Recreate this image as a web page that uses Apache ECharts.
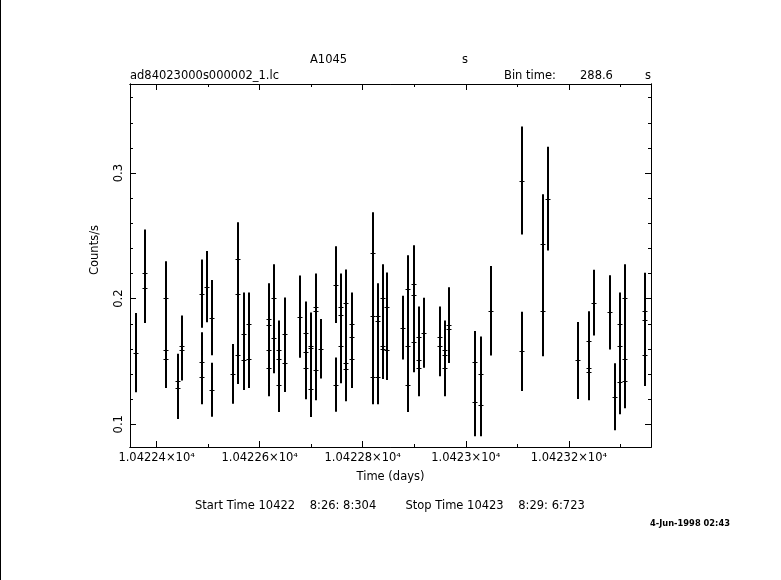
<!DOCTYPE html>
<html>
<head>
<meta charset="utf-8">
<script src="https://cdn.jsdelivr.net/npm/echarts@6/dist/echarts.min.js"></script>
<style>
html,body{margin:0;padding:0;background:#fff;}
#chart{width:781px;height:580px;}
</style>
</head>
<body>
<div id="chart"></div>
<script>
// ---- data (time in days, rate in counts/s, 1-sigma error) ----
var time = [
  10422.3601,
  10422.3781,10422.3781,
  10422.4189,10422.4189,10422.4189,
  10422.4410,10422.4410,
  10422.4499,10422.4499,
  10422.4887,10422.4887,10422.4887,
  10422.4984,
  10422.5081,10422.5081,
  10422.5489,
  10422.5586,10422.5586,10422.5586,
  10422.5702,10422.5702,
  10422.5799,10422.5799,
  10422.6187,10422.6187,10422.6187,10422.6187,
  10422.6284,10422.6284,
  10422.6381,10422.6381,10422.6381,
  10422.6497,10422.6497,
  10422.6789,
  10422.6905,10422.6905,10422.6905,
  10422.7002,10422.7002,10422.7002,
  10422.7099,10422.7099,10422.7099,
  10422.7196,
  10422.7487,10422.7487,
  10422.7584,10422.7584,10422.7584,
  10422.7681,10422.7681,10422.7681,
  10422.7797,10422.7797,10422.7797,
  10422.8205,10422.8205,10422.8205,
  10422.8302,10422.8302,10422.8302,
  10422.8399,10422.8399,10422.8399,
  10422.8477,10422.8477,
  10422.8787,
  10422.8884,10422.8884,10422.8884,
  10422.9000,10422.9000,10422.9000,
  10422.9097,10422.9097,10422.9097,
  10422.9194,
  10422.9505,10422.9505,
  10422.9602,10422.9602,10422.9602,
  10422.9679,10422.9679,
  10423.0184,10423.0184,
  10423.0300,10423.0300,
  10423.0494,
  10423.1096,10423.1096,
  10423.1503,10423.1503,
  10423.1600,
  10423.2182,
  10423.2396,10423.2396,10423.2396,
  10423.2493,
  10423.2803,
  10423.2900,
  10423.2997,10423.2997,10423.2997,
  10423.3094,10423.3094,10423.3094,
  10423.3482,10423.3482,10423.3482
];
var rate = [
  0.1570,
  0.2202,0.2088,
  0.2008,0.1594,0.1522,
  0.1346,0.1291,
  0.1625,0.1594,
  0.2040,0.1498,0.1378,
  0.2096,
  0.1849,0.1275,
  0.1402,
  0.2319,0.2040,0.1554,
  0.1721,0.1514,
  0.1801,0.1522,
  0.1835,0.1793,0.1594,0.1450,
  0.2008,0.1689,
  0.1594,0.1522,0.1315,
  0.1721,0.1490,
  0.1857,
  0.1729,0.1578,0.1450,
  0.1625,0.1609,0.1283,
  0.1936,0.1904,0.1434,
  0.1602,
  0.2112,0.1315,
  0.1936,0.1872,0.1625,
  0.1968,0.1490,0.1442,
  0.1801,0.1697,0.1522,
  0.2367,0.1865,0.1378,
  0.1865,0.1825,0.1378,
  0.2008,0.1625,0.1602,
  0.1936,0.1594,
  0.1769,
  0.2080,0.1625,0.1315,
  0.2120,0.2032,0.1657,
  0.1697,0.1514,0.1450,
  0.1729,
  0.1697,0.1625,
  0.1594,0.1554,0.1450,
  0.1793,0.1761,
  0.1498,0.1176,
  0.1402,0.1155,
  0.1904,
  0.2940,0.1580,
  0.2438,0.1904,
  0.2797,
  0.1508,
  0.1660,0.1450,0.1418,
  0.1968,
  0.1891,
  0.1219,
  0.1801,0.1625,0.1338,
  0.2008,0.1522,0.1346,
  0.1904,0.1833,0.1554
];
var rateErr = [
  0.0316,
  0.0348,0.0282,
  0.0289,0.0280,0.0234,
  0.0215,0.0250,
  0.0241,0.0245,
  0.0271,0.0234,0.0218,
  0.0283,
  0.0299,0.0215,
  0.0238,
  0.0289,0.0280,0.0234,
  0.0329,0.0242,
  0.0249,0.0234,
  0.0287,0.0280,0.0260,0.0226,
  0.0265,0.0282,
  0.0233,0.0240,0.0218,
  0.0289,0.0234,
  0.0327,
  0.0249,0.0250,0.0250,
  0.0265,0.0260,0.0226,
  0.0265,0.0270,0.0242,
  0.0237,
  0.0305,0.0216,
  0.0265,0.0260,0.0298,
  0.0265,0.0260,0.0258,
  0.0249,0.0260,0.0234,
  0.0321,0.0300,0.0218,
  0.0257,0.0260,0.0218,
  0.0265,0.0250,0.0242,
  0.0273,0.0242,
  0.0254,
  0.0265,0.0260,0.0218,
  0.0305,0.0280,0.0242,
  0.0241,0.0230,0.0226,
  0.0279,
  0.0241,0.0242,
  0.0233,0.0230,0.0226,
  0.0297,0.0274,
  0.0244,0.0271,
  0.0297,0.0250,
  0.0356,
  0.0430,0.0315,
  0.0393,0.0362,
  0.0413,
  0.0307,
  0.0239,0.0230,0.0226,
  0.0262,
  0.0295,
  0.0266,
  0.0249,0.0270,0.0258,
  0.0265,0.0270,0.0218,
  0.0303,0.0280,0.0250
];

// ---- axis ticks ----
var xMajorTicks = [10422.4, 10422.6, 10422.8, 10423.0, 10423.2];
var xMinorTicks = [10422.5, 10422.7, 10422.9, 10423.1, 10423.3];
var yMajorTicks = [0.1, 0.2, 0.3];
var yMinorTicks = [0.12, 0.14, 0.16, 0.18, 0.22, 0.24, 0.26, 0.28, 0.32, 0.34, 0.36];
var xRange = [10422.3484, 10423.3593];
var yRange = [0.0819, 0.3709];

var FONT = '"DejaVu Sans", sans-serif';

function xLabel(v) {
  var m = (v / 10000).toFixed(5).replace(/0+$/, '');
  return m + '×10⁴';
}

function mkX(pos, ticks, len, labels) {
  return {
    type: 'value', position: pos, min: xRange[0], max: xRange[1],
    axisLine: {show: true, onZero: false, lineStyle: {color: '#000', width: 1}},
    axisTick: {show: true, inside: true, length: len, customValues: ticks, lineStyle: {color: '#000', width: 1}},
    axisLabel: labels ? {show: true, customValues: ticks, formatter: xLabel, color: '#000',
      fontFamily: FONT, fontSize: 11.5, margin: 5} : {show: false},
    splitLine: {show: false}
  };
}
function mkY(pos, ticks, len, labels) {
  return {
    type: 'value', position: pos, min: yRange[0], max: yRange[1],
    axisLine: {show: true, onZero: false, lineStyle: {color: '#000', width: 1}},
    axisTick: {show: true, inside: true, length: len, customValues: ticks, lineStyle: {color: '#000', width: 1}},
    axisLabel: labels ? {show: true, customValues: ticks, rotate: 90, color: '#000',
      formatter: function (v) { return (Math.round(v * 10) / 10).toFixed(1); },
      fontFamily: FONT, fontSize: 11.5, margin: 5} : {show: false},
    splitLine: {show: false}
  };
}

var points = time.map(function (t, i) { return [t, rate[i], rateErr[i]]; });

var chart = echarts.init(document.getElementById('chart'), null, {renderer: 'canvas'});
chart.setOption({
  animation: false,
  backgroundColor: '#fff',
  grid: {left: 130, top: 84, width: 521, height: 363, containLabel: false},
  xAxis: [
    Object.assign(mkX('bottom', xMajorTicks, 6, true), {name: 'Time (days)', nameLocation: 'middle', nameGap: 24,
      nameTextStyle: {color: '#000', fontFamily: FONT, fontSize: 11.5}}),
    mkX('bottom', xMinorTicks, 3, false),
    mkX('top', xMajorTicks, 6, false),
    mkX('top', xMinorTicks, 3, false)
  ],
  yAxis: [
    mkY('left', yMajorTicks, 6, true),
    mkY('left', yMinorTicks, 3, false),
    mkY('right', yMajorTicks, 6, false),
    mkY('right', yMinorTicks, 3, false)
  ],
  series: [{
    type: 'custom',
    xAxisIndex: 0, yAxisIndex: 0,
    clip: true,
    data: points,
    encode: {x: 0, y: 1},
    renderItem: function (params, api) {
      var t = api.value(0), v = api.value(1), e = api.value(2);
      var top = api.coord([t, v + e]);
      var bot = api.coord([t, v - e]);
      var mid = api.coord([t, v]);
      var x = Math.round(mid[0]);
      var ym = Math.round(mid[1]) + 0.5;
      return {
        type: 'group',
        children: [
          {type: 'line', shape: {x1: x, y1: top[1], x2: x, y2: bot[1]},
            style: {stroke: '#000', lineWidth: 2}},
          {type: 'line', shape: {x1: x - 2.5, y1: ym, x2: x + 2.5, y2: ym},
            style: {stroke: '#000', lineWidth: 1}}
        ]
      };
    }
  }],
  graphic: [
    {type: 'line', shape: {x1: 0.5, y1: 0, x2: 0.5, y2: 580}, style: {stroke: '#000', lineWidth: 1}},
    {type: 'text', x: 310, y: 60, style: {text: 'A1045', font: '11.5px ' + FONT, fill: '#000', textVerticalAlign: 'middle'}},
    {type: 'text', x: 462, y: 60, style: {text: 's', font: '11.5px ' + FONT, fill: '#000', textVerticalAlign: 'middle'}},
    {type: 'text', x: 130, y: 76, style: {text: 'ad84023000s000002_1.lc', font: '11.5px ' + FONT, fill: '#000', textVerticalAlign: 'middle'}},
    {type: 'text', x: 504, y: 76, style: {text: 'Bin time:', font: '11.5px ' + FONT, fill: '#000', textVerticalAlign: 'middle'}},
    {type: 'text', x: 580, y: 76, style: {text: '288.6', font: '11.5px ' + FONT, fill: '#000', textVerticalAlign: 'middle'}},
    {type: 'text', x: 645, y: 76, style: {text: 's', font: '11.5px ' + FONT, fill: '#000', textVerticalAlign: 'middle'}},
    {type: 'text', x: 95, y: 250, rotation: Math.PI / 2,
      style: {text: 'Counts/s', font: '11.5px ' + FONT, fill: '#000', textAlign: 'center', textVerticalAlign: 'middle'}},
    {type: 'text', x: 195, y: 506, style: {text: 'Start Time 10422    8:26: 8:304        Stop Time 10423    8:29: 6:723',
      font: '11.5px ' + FONT, fill: '#000', textVerticalAlign: 'middle'}},
    {type: 'text', x: 650, y: 524, style: {text: '4-Jun-1998 02:43', font: 'bold 8.3px ' + FONT, fill: '#000', textVerticalAlign: 'middle'}}
  ]
});
</script>
</body>
</html>
